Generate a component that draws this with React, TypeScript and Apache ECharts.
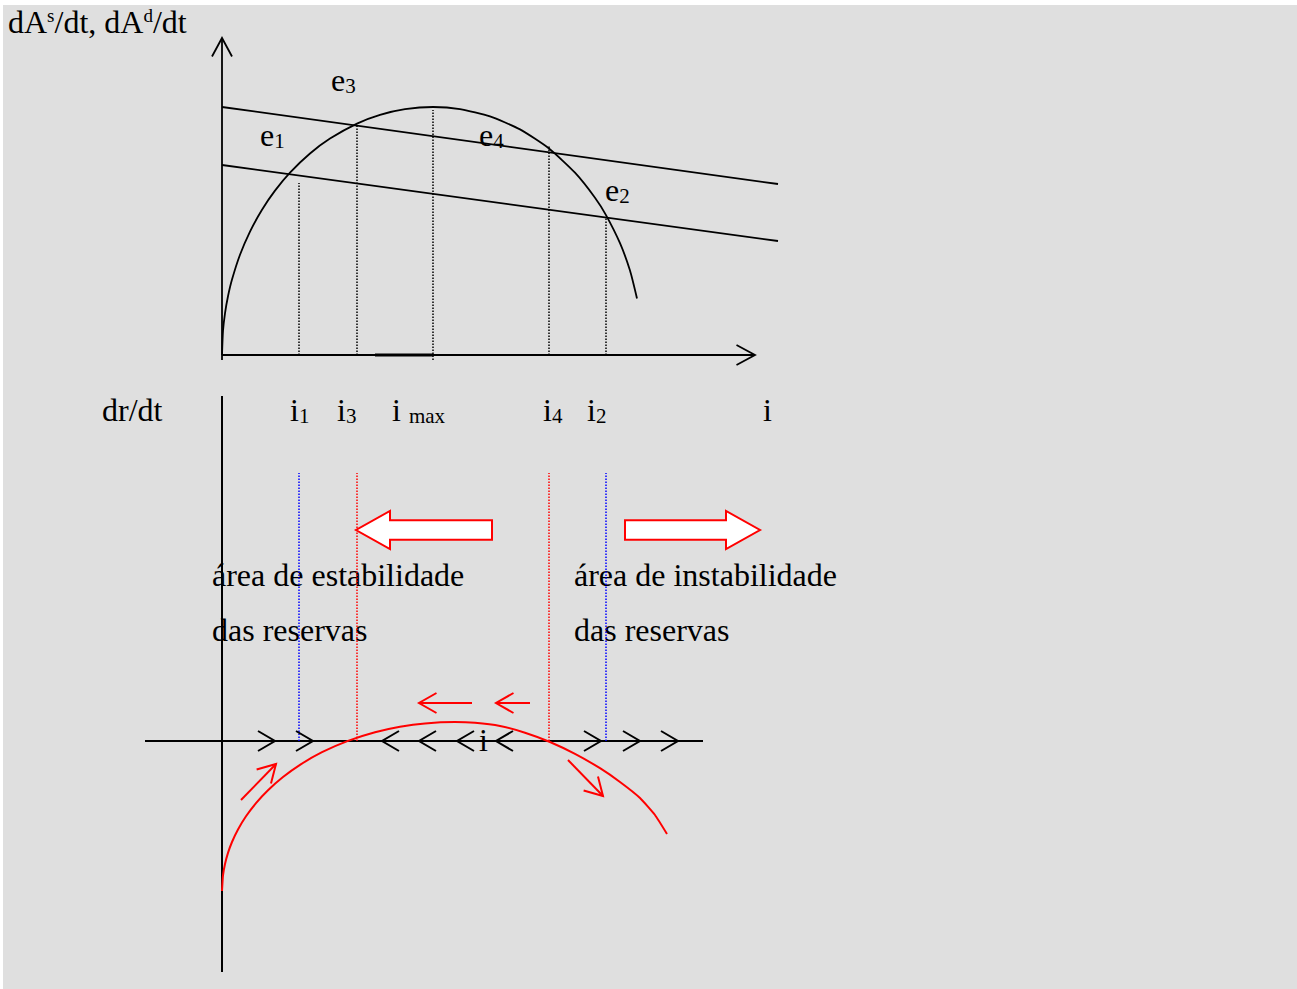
import React, { useEffect, useRef } from 'react';
import * as echarts from 'echarts';

// ---------- Upper panel (x: i, y: dA/dt ; schematic units) ----------
const supplyI = [0, 0.1, 0.3, 0.6, 1.0, 1.8, 2.8, 4.0, 5.3, 6.8, 8.8, 10.8, 13.5, 15.8, 18.3, 21.1, 23.8, 26.8, 29.8, 32.7, 35.3, 37.3, 38.4, 39.8, 40.8, 41.5];
const supplyRate = [0, 2.41, 4.17, 5.87, 7.54, 10.02, 12.34, 14.53, 16.44, 18.24, 20.15, 21.64, 23.14, 24.01, 24.58, 24.8, 24.59, 23.86, 22.56, 20.65, 18.23, 15.73, 13.99, 11.18, 8.44, 5.65];
const demandHighI = [0, 55.6];
const demandHighRate = [24.8, 17.1];
const demandLowI = [0, 55.6];
const demandLowRate = [19.0, 11.4];
const eqNames = ['i1', 'i3', 'imax', 'i4', 'i2'];
const eqI = [7.7, 13.5, 21.1, 32.7, 38.4];
const eqDropTop = [17.2, 23.0, 24.5, 21.0, 13.8];
const eqDropBottom = [0, 0, -0.5, 0, 0];

// ---------- Lower panel (x: i, y: dr/dt) ----------
const rateI = [0, 0.1, 0.3, 0.6, 1.0, 1.6, 2.4, 3.4, 4.6, 6.1, 7.8, 10.0, 12.6, 15.3, 17.8, 20.3, 23.3, 25.3, 27.8, 30.3, 32.8, 35.3, 37.8, 39.8, 41.8, 43.3, 44.5];
const rateR = [-15.0, -13.44, -12.3, -11.19, -10.1, -8.85, -7.53, -6.21, -4.92, -3.6, -2.38, -1.12, 0.01, 0.87, 1.42, 1.76, 1.9, 1.82, 1.5, 0.83, -0.1, -1.29, -2.72, -4.1, -5.7, -7.4, -9.3];
const stableBounds = [7.7, 38.4];   // i1, i2 (blue)
const unstableBounds = [13.5, 32.7]; // i3, i4 (red)
const boundTop = 26.8;
const rightChevrons = [5.3, 9.1, 37.9, 41.8, 45.6];
const leftChevrons = [16.0, 19.7, 23.5, 27.4];
const flowArrows = [
  [1.9, -5.9, 5.4, -2.3],
  [34.6, -1.9, 38.1, -5.5],
  [25.0, 3.8, 19.7, 3.8],
  [30.8, 3.8, 27.4, 3.8],
];
const blockArrows = [
  [27.0, 13.4, 21.1],
  [40.3, 53.8, 21.1],
];

const SERIF = '"Liberation Serif", "Times New Roman", Times, serif';
const RED = '#ff0000';
const BLUE = '#0000ff';
const BLACK = '#000000';
const FS = 32;

function segments(name: string, g: number, rows: number[][], style: any) {
  return {
    type: 'custom', name, xAxisIndex: g, yAxisIndex: g, clip: false, silent: true,
    data: rows, encode: { x: [0, 2], y: [1, 3] },
    renderItem: (_p: any, api: any) => {
      const a = api.coord([api.value(0), api.value(1)]);
      const b = api.coord([api.value(2), api.value(3)]);
      return { type: 'line', shape: { x1: a[0], y1: a[1], x2: b[0], y2: b[1] }, style: { fill: 'none', ...style } };
    },
  };
}

function arrows(name: string, g: number, rows: number[][], style: any, len = 17.5, half = 10) {
  return {
    type: 'custom', name, xAxisIndex: g, yAxisIndex: g, clip: false, silent: true,
    data: rows, encode: { x: [0, 2], y: [1, 3] },
    renderItem: (_p: any, api: any) => {
      const a = api.coord([api.value(0), api.value(1)]);
      const b = api.coord([api.value(2), api.value(3)]);
      const dx = b[0] - a[0], dy = b[1] - a[1];
      const L = Math.hypot(dx, dy) || 1;
      const ux = dx / L, uy = dy / L;
      const l = [b[0] - ux * len - uy * half, b[1] - uy * len + ux * half];
      const r = [b[0] - ux * len + uy * half, b[1] - uy * len - ux * half];
      return {
        type: 'group',
        children: [
          { type: 'line', shape: { x1: a[0], y1: a[1], x2: b[0], y2: b[1] }, style: { fill: 'none', ...style } },
          { type: 'polyline', shape: { points: [l, b, r] }, style: { fill: 'none', ...style } },
        ],
      };
    },
  };
}

function chevrons(name: string, g: number, rows: number[][], style: any) {
  return {
    type: 'custom', name, xAxisIndex: g, yAxisIndex: g, clip: false, silent: true,
    data: rows, encode: { x: 0, y: 1 },
    renderItem: (_p: any, api: any) => {
      const t = api.coord([api.value(0), api.value(1)]);
      const d = api.value(2);
      return {
        type: 'polyline',
        shape: { points: [[t[0] - d * 17, t[1] - 10], t, [t[0] - d * 17, t[1] + 10]] },
        style: { fill: 'none', ...style },
      };
    },
  };
}

function blocks(name: string, g: number, rows: number[][]) {
  return {
    type: 'custom', name, xAxisIndex: g, yAxisIndex: g, clip: false, silent: true,
    data: rows, encode: { x: [0, 1], y: 2 },
    renderItem: (_p: any, api: any) => {
      const tail = api.coord([api.value(0), api.value(2)]);
      const tip = api.coord([api.value(1), api.value(2)]);
      const d = Math.sign(tip[0] - tail[0]);
      const hb = tip[0] - d * 34;
      const y = tip[1];
      const pts = [[tail[0], y - 9.7], [hb, y - 9.7], [hb, y - 19], [tip[0], y], [hb, y + 19], [hb, y + 9.7], [tail[0], y + 9.7]];
      return { type: 'polygon', shape: { points: pts }, style: { fill: '#ffffff', stroke: RED, lineWidth: 2 } };
    },
  };
}

const rich = {
  b: { fontFamily: SERIF, fontSize: FS, lineHeight: FS, fill: BLACK },
  sub: { fontFamily: SERIF, fontSize: 21, lineHeight: 17, verticalAlign: 'bottom', fill: BLACK },
  sup: { fontFamily: SERIF, fontSize: 19, lineHeight: 9, verticalAlign: 'top', fill: BLACK },
};

function label(text: string, x: number, baseline: number, size = FS) {
  return {
    type: 'text', x, y: baseline - 0.33 * size,
    style: { text, fontFamily: SERIF, fontSize: size, fill: BLACK, align: 'left', verticalAlign: 'middle', rich },
  };
}

const pairs = (xs: number[], ys: number[]) => xs.map((x, i) => [x, ys[i]]);

function buildOption() {
  const topDrops = eqI.map((x, k) => [x, eqDropBottom[k], x, eqDropTop[k]]);
  return {
    animation: false,
    backgroundColor: '#ffffff',
    grid: [
      { left: 222, top: 35, width: 556, height: 340 },
      { left: 145, top: 396, width: 633, height: 576 },
    ],
    xAxis: [
      { type: 'value', gridIndex: 0, min: 0, max: 55.6, show: false },
      { type: 'value', gridIndex: 1, min: -7.7, max: 55.6, show: false },
    ],
    yAxis: [
      { type: 'value', gridIndex: 0, min: -2, max: 32, show: false },
      { type: 'value', gridIndex: 1, min: -23.1, max: 34.5, show: false },
    ],
    graphic: [
      { type: 'rect', shape: { x: 3, y: 5, width: 1294, height: 984 }, style: { fill: '#dfdfdf' }, z: -10 },
      label('{b|dA}{sup|s}{b|/dt, dA}{sup|d}{b|/dt}', 8, 33),
      label('{b|e}{sub|3}', 331, 91),
      label('{b|e}{sub|1}', 260, 146),
      label('{b|e}{sub|4}', 479, 146),
      label('{b|e}{sub|2}', 605, 201),
      label('dr/dt', 102, 421),
      label('{b|i}{sub|1}', 290, 421),
      label('{b|i}{sub|3}', 337, 421),
      label('{b|i }{sub|max}', 392, 421),
      label('{b|i}{sub|4}', 543, 421),
      label('{b|i}{sub|2}', 587, 421),
      label('i', 763, 421),
      label('área de estabilidade', 212, 586),
      label('das reservas', 212, 641),
      label('área de instabilidade', 574, 586),
      label('das reservas', 574, 641),
      label('i', 479, 751),
    ],
    series: [
      // upper panel
      arrows('axes-top', 0, [[0, -0.5, 0, 31.7], [0, 0, 53.3, 0]], { stroke: BLACK, lineWidth: 1.8 }, 18.5, 10),
      segments('axis-mark', 0, [[15.3, 0, 21.1, 0]], { stroke: BLACK, lineWidth: 3 }),
      segments(eqNames.join(','), 0, topDrops, { stroke: BLACK, lineWidth: 1.5, lineDash: [1.5, 1.5] }),
      {
        type: 'line', name: 'dAs/dt', xAxisIndex: 0, yAxisIndex: 0, data: pairs(supplyI, supplyRate),
        symbol: 'none', smooth: 0.2, clip: false, silent: true, lineStyle: { color: BLACK, width: 1.8 },
      },
      {
        type: 'line', name: 'dAd/dt high', xAxisIndex: 0, yAxisIndex: 0, data: pairs(demandHighI, demandHighRate),
        symbol: 'none', clip: false, silent: true, lineStyle: { color: BLACK, width: 1.8 },
      },
      {
        type: 'line', name: 'dAd/dt low', xAxisIndex: 0, yAxisIndex: 0, data: pairs(demandLowI, demandLowRate),
        symbol: 'none', clip: false, silent: true, lineStyle: { color: BLACK, width: 1.8 },
      },
      // lower panel
      segments('axes-bottom', 1, [[0, 34.5, 0, -23.1], [-7.7, 0, 48.1, 0]], { stroke: BLACK, lineWidth: 2 }),
      segments('stable-bounds', 1, stableBounds.map((x) => [x, 0, x, boundTop]), { stroke: BLUE, lineWidth: 1.5, lineDash: [1.5, 1.5] }),
      segments('unstable-bounds', 1, unstableBounds.map((x) => [x, 0, x, boundTop]), { stroke: RED, lineWidth: 1.5, lineDash: [1.5, 1.5] }),
      chevrons('flow-axis', 1, [...rightChevrons.map((x) => [x, 0, 1]), ...leftChevrons.map((x) => [x, 0, -1])], { stroke: BLACK, lineWidth: 2 }),
      {
        type: 'line', name: 'dr/dt', xAxisIndex: 1, yAxisIndex: 1, data: pairs(rateI, rateR),
        symbol: 'none', smooth: 0.15, clip: false, silent: true, lineStyle: { color: RED, width: 2 },
      },
      arrows('flow-red', 1, flowArrows, { stroke: RED, lineWidth: 2 }, 17.5, 10),
      blocks('direction', 1, blockArrows),
    ],
  };
}

export default function App() {
  const ref = useRef<HTMLDivElement>(null);
  useEffect(() => {
    document.body.style.margin = '0';
    const chart = echarts.init(ref.current as HTMLDivElement, null, { renderer: 'svg' });
    chart.setOption(buildOption() as any);
    return () => chart.dispose();
  }, []);
  return <div ref={ref} style={{ position: 'absolute', left: 0, top: 0, width: 1297, height: 989 }} />;
}
